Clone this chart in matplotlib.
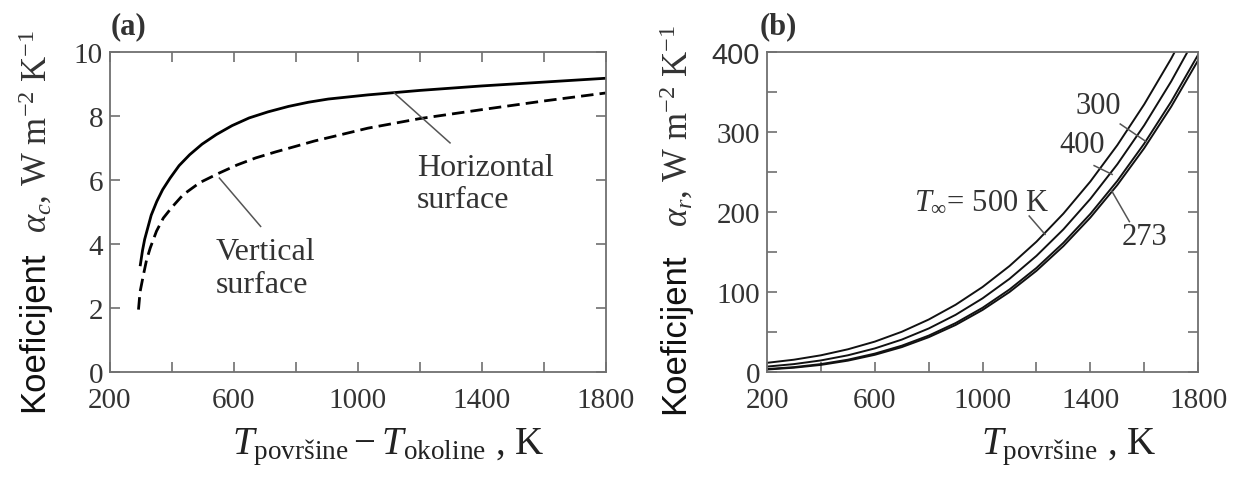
import matplotlib
matplotlib.use("Agg")
import matplotlib.pyplot as plt

plt.rcParams["font.family"] = "serif"
plt.rcParams["font.serif"] = ["Liberation Serif"]
plt.rcParams["mathtext.fontset"] = "custom"
plt.rcParams["mathtext.rm"] = "Liberation Serif"
plt.rcParams["mathtext.it"] = "Liberation Serif:italic"
plt.rcParams["mathtext.bf"] = "Liberation Serif:bold"

# (a) convection coefficient vs temperature difference
t_horiz = [298, 305, 312, 319, 333, 351, 370, 394, 423, 457, 497, 543, 594,
           649, 710, 776, 840, 904, 1032, 1200, 1400, 1600, 1800]
a_horiz = [3.35, 3.80, 4.15, 4.40, 4.90, 5.33, 5.70, 6.06, 6.45, 6.79, 7.12,
           7.42, 7.70, 7.94, 8.13, 8.30, 8.43, 8.53, 8.66, 8.80, 8.94, 9.06, 9.18]
t_vert = [292, 297, 308, 318, 330, 350, 372, 400, 436, 490, 553, 610, 670,
          735, 798, 860, 925, 1032, 1200, 1400, 1600, 1800]
a_vert = [1.95, 2.50, 3.04, 3.50, 3.88, 4.40, 4.81, 5.15, 5.54, 5.92, 6.22,
          6.47, 6.69, 6.88, 7.05, 7.22, 7.37, 7.62, 7.92, 8.20, 8.47, 8.72]

# (b) radiation coefficient vs surface temperature, for several T_inf
t_surf = [200, 300, 400, 500, 600, 700, 800, 900, 1000, 1100, 1200,
          1300, 1400, 1500, 1600, 1700, 1800]
a_273 = [3.1, 5.4, 8.9, 14.2, 21.5, 31.1, 43.5, 58.8, 77.6, 100.0, 126.5,
         157.4, 193.0, 233.7, 279.8, 331.6, 389.6]
a_300 = [3.7, 6.1, 9.9, 15.4, 23.0, 32.9, 45.5, 61.2, 80.3, 103.2, 130.1,
         161.5, 197.6, 238.8, 285.5, 337.9, 396.5]
a_400 = [6.8, 9.9, 14.5, 20.9, 29.5, 40.5, 54.4, 71.5, 92.1, 116.5, 145.2,
         178.3, 216.4, 259.6, 308.4, 363.2, 424.1]
a_500 = [11.5, 15.4, 20.9, 28.4, 38.0, 50.3, 65.6, 84.1, 106.3, 132.5, 162.9,
         198.0, 238.1, 283.5, 334.6, 391.7, 455.1]

txt = "#333333"
edge = "#707070"

fig = plt.figure(figsize=(12.44, 4.81), dpi=100)
ax1 = fig.add_axes([0.0884, 0.2245, 0.3987, 0.6653])
ax2 = fig.add_axes([0.6166, 0.2245, 0.3465, 0.6653])

for ax in (ax1, ax2):
    for s in ax.spines.values():
        s.set_color(edge)
        s.set_linewidth(1.3)
    ax.tick_params(direction="in", length=7, width=1.2, color=edge,
                   labelsize=21, labelcolor=txt, pad=5)
    ax.tick_params(axis="x", pad=11)

# ---- panel (a)
ax1.plot(t_horiz, a_horiz, color="black", lw=2.0)
ax1.plot(t_vert, a_vert, color="black", lw=2.0, dashes=(4.5, 2.2))
ax1.set_xlim(200, 1800)
ax1.set_ylim(0, 10)
ax1.set_xticks([200, 600, 1000, 1400, 1800])
ax1.set_xticks(range(200, 1801, 200), minor=True)
ax1.set_yticks(range(0, 11, 2))
ax1.tick_params(which="both", top=True, right=True, direction="in", color=edge)
ax1.tick_params(which="minor", length=7, width=1.2)

ax1.plot([1117, 1297], [8.72, 7.16], color="#555555", lw=1.1)
ax1.text(1191, 5.9, "Horizontal\nsurface", fontsize=23, color=txt,
         va="center", ha="left", linespacing=1.15)
ax1.plot([553, 686], [6.06, 4.55], color="#555555", lw=1.1)
ax1.text(540, 3.25, "Vertical\nsurface", fontsize=23, color=txt,
         va="center", ha="left", linespacing=1.15)

fig.text(0.089, 0.945, "(a)", fontsize=22, fontweight="bold", color=txt,
         ha="left", va="center")

# ---- panel (b)
for vals in (a_273, a_300, a_400, a_500):
    ax2.plot(t_surf, vals, color="#111111", lw=1.4)
ax2.set_xlim(200, 1800)
ax2.set_ylim(0, 400)
ax2.set_xticks([200, 600, 1000, 1400, 1800])
ax2.set_xticks(range(200, 1801, 200), minor=True)
ax2.set_yticks(range(0, 401, 100))
ax2.set_yticks(range(0, 401, 50), minor=True)
ax2.tick_params(which="both", right=True, direction="in", color=edge)
ax2.tick_params(which="minor", length=7, width=1.2)
ax2.get_yticklabels()[-1].set_fontfamily("Liberation Sans")

ax2.text(746, 214, r"$T_\infty$= 500 K", fontsize=22, color=txt,
         ha="left", va="center")
ax2.plot([1173, 1232], [195, 172], color="#555555", lw=1.1)
ax2.text(1368, 284, "400", fontsize=22, color=txt, ha="center", va="center")
ax2.plot([1414, 1481], [258, 247], color="#555555", lw=1.1)
ax2.text(1430, 333, "300", fontsize=22, color=txt, ha="center", va="center")
ax2.plot([1511, 1607], [310, 288], color="#555555", lw=1.1)
ax2.text(1600, 170, "273", fontsize=22, color=txt, ha="center", va="center")
ax2.plot([1480, 1545], [226, 188], color="#555555", lw=1.1)

fig.text(0.611, 0.945, "(b)", fontsize=22, fontweight="bold", color=txt,
         ha="left", va="center")

# ---- axis titles
fig.text(0.027, 0.31, "Koeficijent", family="Liberation Sans", fontsize=25,
         rotation=90, ha="center", va="center", color="#111111")
fig.text(0.029, 0.727, r"$\alpha_c$, W m$^{-2}$ K$^{-1}$", fontsize=25,
         rotation=90, ha="center", va="center", color=txt)
fig.text(0.542, 0.307, "Koeficijent", family="Liberation Sans", fontsize=25,
         rotation=90, ha="center", va="center", color="#111111")
fig.text(0.544, 0.738, r"$\alpha_r$, W m$^{-2}$ K$^{-1}$", fontsize=25,
         rotation=90, ha="center", va="center", color=txt)

fig.text(0.312, 0.07, r"$T_{\mathrm{površine}} - T_{\mathrm{okoline}}$ , K",
         fontsize=28, ha="center", va="center", color="#222222")
fig.text(0.859, 0.07, r"$T_{\mathrm{površine}}$ , K",
         fontsize=28, ha="center", va="center", color="#222222")

fig.savefig("out.png", dpi=100)
